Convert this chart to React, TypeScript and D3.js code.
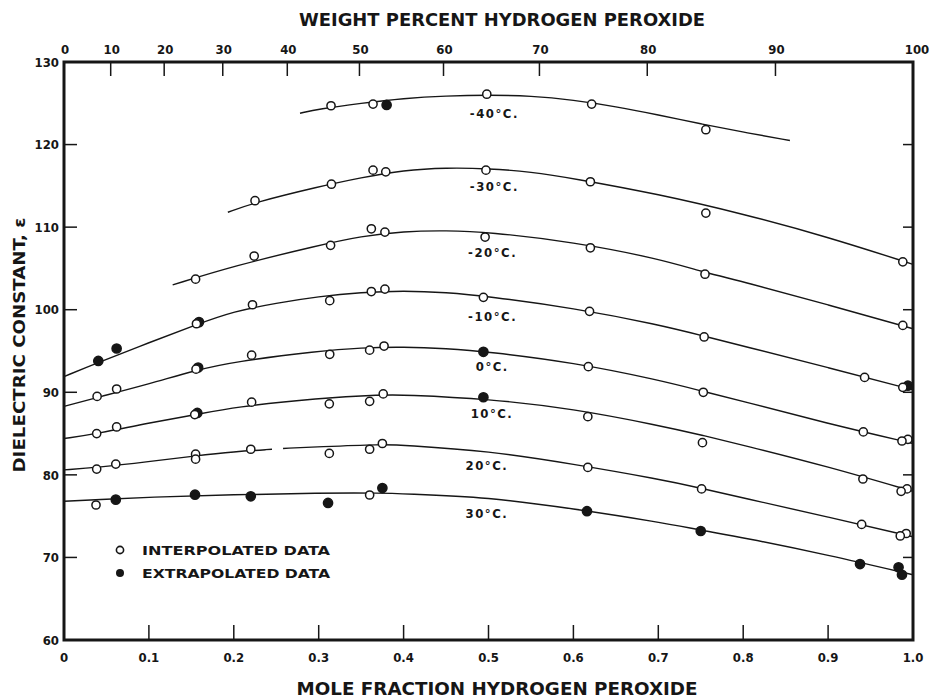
import React from 'react';
import * as d3 from 'd3';

// ---- data (mole fraction, dielectric constant) ----
type Pt = [number, number];
type Obs = [number, number, 'o' | 'f'];

const temps = ['-40', '-30', '-20', '-10', '0', '10', '20', '30'];

// smoothed curves
const curveM40: Pt[] = [[0.278, 123.8], [0.3, 124.3], [0.35, 125.0], [0.4, 125.6], [0.45, 125.9], [0.5, 126.0], [0.55, 125.9], [0.6, 125.4], [0.65, 124.6], [0.7, 123.6], [0.75, 122.5], [0.8, 121.5], [0.855, 120.5]];
const curveM30: Pt[] = [[0.193, 111.8], [0.225, 113.0], [0.3, 114.9], [0.35, 116.0], [0.4, 116.9], [0.45, 117.2], [0.5, 117.1], [0.55, 116.7], [0.6, 115.9], [0.7, 114.0], [0.8, 111.6], [0.9, 108.8], [1.0, 105.5]];
const curveM20: Pt[] = [[0.128, 103.0], [0.2, 105.3], [0.3, 107.8], [0.35, 108.9], [0.4, 109.5], [0.45, 109.6], [0.5, 109.4], [0.6, 108.2], [0.7, 106.2], [0.755, 104.5], [0.8, 103.4], [0.9, 100.6], [1.0, 97.7]];
const curveM10: Pt[] = [[0, 91.9], [0.04, 93.6], [0.1, 96.0], [0.156, 98.2], [0.2, 99.8], [0.25, 100.8], [0.3, 101.6], [0.35, 102.1], [0.4, 102.3], [0.45, 102.1], [0.5, 101.6], [0.6, 100.2], [0.7, 98.2], [0.754, 96.8], [0.8, 95.6], [0.9, 93.0], [1.0, 90.3]];
const curveP0: Pt[] = [[0, 88.3], [0.04, 89.4], [0.1, 91.0], [0.156, 92.7], [0.2, 93.7], [0.3, 95.0], [0.35, 95.4], [0.4, 95.5], [0.45, 95.3], [0.5, 94.9], [0.6, 93.6], [0.7, 91.5], [0.753, 90.1], [0.8, 88.9], [0.9, 86.2], [1.0, 83.8]];
const curveP10: Pt[] = [[0, 84.4], [0.04, 85.0], [0.1, 86.3], [0.156, 87.3], [0.2, 88.2], [0.3, 89.3], [0.376, 89.7], [0.4, 89.7], [0.5, 89.2], [0.6, 88.0], [0.7, 86.0], [0.752, 84.8], [0.8, 83.6], [0.9, 81.0], [1.0, 78.0]];
// 20 deg curve has a small break in the drawn line
const curveP20: (Pt | null)[] = [[0, 80.6], [0.04, 80.9], [0.1, 81.6], [0.155, 82.3], [0.2, 82.8], [0.245, 83.1], null, [0.258, 83.2], [0.3, 83.4], [0.375, 83.7], [0.4, 83.6], [0.5, 82.9], [0.6, 81.3], [0.7, 79.5], [0.75, 78.4], [0.8, 77.2], [0.9, 74.9], [1.0, 72.5]];
const curveP30: Pt[] = [[0, 76.8], [0.04, 77.0], [0.1, 77.3], [0.2, 77.6], [0.3, 77.8], [0.375, 77.8], [0.4, 77.7], [0.5, 77.3], [0.6, 75.9], [0.7, 74.3], [0.75, 73.3], [0.8, 72.4], [0.9, 70.3], [1.0, 67.9]];

// measured points: o = interpolated, f = extrapolated
const ptsM40: Obs[] = [[0.3145, 124.7, 'o'], [0.364, 124.9, 'o'], [0.38, 124.8, 'f'], [0.498, 126.1, 'o'], [0.6215, 124.9, 'o'], [0.756, 121.8, 'o']];
const ptsM30: Obs[] = [[0.225, 113.2, 'o'], [0.315, 115.2, 'o'], [0.364, 116.9, 'o'], [0.379, 116.7, 'o'], [0.497, 116.9, 'o'], [0.62, 115.5, 'o'], [0.756, 111.7, 'o'], [0.988, 105.8, 'o']];
const ptsM20: Obs[] = [[0.155, 103.7, 'o'], [0.224, 106.5, 'o'], [0.314, 107.8, 'o'], [0.362, 109.8, 'o'], [0.378, 109.4, 'o'], [0.496, 108.8, 'o'], [0.62, 107.5, 'o'], [0.755, 104.3, 'o'], [0.988, 98.1, 'o']];
const ptsM10: Obs[] = [[0.0404, 93.8, 'f'], [0.062, 95.3, 'f'], [0.159, 98.5, 'f'], [0.156, 98.3, 'o'], [0.222, 100.6, 'o'], [0.313, 101.1, 'o'], [0.362, 102.2, 'o'], [0.378, 102.5, 'o'], [0.494, 101.5, 'o'], [0.619, 99.8, 'o'], [0.754, 96.7, 'o'], [0.943, 91.8, 'o'], [0.994, 90.8, 'f'], [0.988, 90.6, 'o']];
const ptsP0: Obs[] = [[0.039, 89.5, 'o'], [0.062, 90.4, 'o'], [0.158, 93.0, 'f'], [0.1555, 92.8, 'o'], [0.221, 94.5, 'o'], [0.313, 94.6, 'o'], [0.36, 95.1, 'o'], [0.377, 95.6, 'o'], [0.494, 94.9, 'f'], [0.6176, 93.1, 'o'], [0.753, 90.0, 'o'], [0.9415, 85.2, 'o'], [0.994, 84.3, 'o'], [0.987, 84.1, 'o']];
const ptsP10: Obs[] = [[0.0385, 85.0, 'o'], [0.062, 85.8, 'o'], [0.157, 87.5, 'f'], [0.154, 87.3, 'o'], [0.221, 88.8, 'o'], [0.3125, 88.6, 'o'], [0.36, 88.9, 'o'], [0.376, 89.8, 'o'], [0.494, 89.4, 'f'], [0.617, 87.05, 'o'], [0.752, 83.9, 'o'], [0.941, 79.5, 'o'], [0.993, 78.3, 'o'], [0.986, 78.0, 'o']];
const ptsP20: Obs[] = [[0.0385, 80.7, 'o'], [0.061, 81.3, 'o'], [0.155, 82.5, 'o'], [0.155, 81.9, 'o'], [0.22, 83.1, 'o'], [0.3125, 82.6, 'o'], [0.36, 83.1, 'o'], [0.375, 83.8, 'o'], [0.617, 80.9, 'o'], [0.751, 78.3, 'o'], [0.9395, 74.0, 'o'], [0.992, 72.9, 'o'], [0.985, 72.6, 'o']];
const ptsP30: Obs[] = [[0.0377, 76.35, 'o'], [0.061, 77.0, 'f'], [0.1543, 77.6, 'f'], [0.22, 77.4, 'f'], [0.311, 76.6, 'f'], [0.36, 77.56, 'o'], [0.375, 78.4, 'f'], [0.616, 75.6, 'f'], [0.75, 73.2, 'f'], [0.9376, 69.2, 'f'], [0.983, 68.8, 'f'], [0.987, 67.9, 'f']];

// curve label anchors (mole fraction, value)
const labelPos: Pt[] = [[0.478, 123.8], [0.478, 114.9], [0.476, 106.9], [0.476, 99.2], [0.485, 93.2], [0.479, 87.4], [0.473, 81.1], [0.473, 75.4]];

const curves = [curveM40, curveM30, curveM20, curveM10, curveP0, curveP10, curveP20, curveP30];
const points = [ptsM40, ptsM30, ptsM20, ptsM10, ptsP0, ptsP10, ptsP20, ptsP30];

// axes
const yTicks = [60, 70, 80, 90, 100, 110, 120, 130];
const xTicks = [0, 0.1, 0.2, 0.3, 0.4, 0.5, 0.6, 0.7, 0.8, 0.9, 1.0];
const xTickLabels = ['0', '0.1', '0.2', '0.3', '0.4', '0.5', '0.6', '0.7', '0.8', '0.9', '1.0'];
// weight percent ticks and where they fall on the mole-fraction scale
const wtLabels = ['0', '10', '20', '30', '40', '50', '60', '70', '80', '90', '100'];
const wtAtMole = [0, 0.055, 0.118, 0.187, 0.263, 0.348, 0.447, 0.56, 0.687, 0.838, 1.0];

const W = 935;
const H = 700;
const FONT = "'DejaVu Sans Condensed', 'DejaVu Sans', sans-serif";
const INK = '#161616';

export default function App() {
  const x = d3.scaleLinear().domain([0, 1]).range([64, 913]);
  const y = d3.scaleLinear().domain([60, 130]).range([640, 62]);

  // basis spline gives the smooth hand-drawn look
  const line = d3.line<Pt | null>()
    .defined(d => d !== null)
    .x(d => x((d as Pt)[0]))
    .y(d => y((d as Pt)[1]))
    .curve(d3.curveBasis);

  const [x0, x1] = x.range();
  const [yb, yt] = y.range();

  return (
    <div style={{ position: 'absolute', left: 0, top: 0 }}>
      <svg width={W} height={H} style={{ display: 'block', background: '#fff' }}>
        {/* curves */}
        <g fill="none" stroke={INK} strokeWidth={1.4}>
          {curves.map((c, i) => <path key={i} d={line(c) || ''} />)}
        </g>

        {/* data points */}
        {points.map((ps, i) => (
          <g key={i}>
            {ps.map((p, j) => (
              <circle key={j} cx={x(p[0])} cy={y(p[1])} r={p[2] === 'f' ? 4.6 : 4.1}
                fill={p[2] === 'f' ? INK : '#fff'} stroke={INK} strokeWidth={1.5} />
            ))}
          </g>
        ))}

        {/* curve labels */}
        <g fontFamily={FONT} fontWeight="bold" fontSize={13} fill={INK}>
          {temps.map((t, i) => (
            <text key={t} x={x(labelPos[i][0])} y={y(labelPos[i][1])} dy="0.36em" letterSpacing="1.5">
              {t}°C.
            </text>
          ))}
        </g>

        {/* frame */}
        <rect x={x0} y={yt} width={x1 - x0} height={yb - yt} fill="none" stroke={INK} strokeWidth={3} />

        {/* inward ticks */}
        <g stroke={INK} strokeWidth={1.5}>
          {yTicks.slice(1, -1).map(v => (
            <g key={v}>
              <line x1={x0} x2={x0 + 13} y1={y(v)} y2={y(v)} />
              <line x1={x1} x2={x1 - 10} y1={y(v)} y2={y(v)} />
            </g>
          ))}
          {xTicks.slice(1, -1).map(v => (
            <line key={v} x1={x(v)} x2={x(v)} y1={yb} y2={yb - 15} />
          ))}
          {wtAtMole.slice(1, -1).map(v => (
            <line key={v} x1={x(v)} x2={x(v)} y1={yt} y2={yt + 14} />
          ))}
        </g>

        {/* tick labels */}
        <g fontFamily={FONT} fontWeight="bold" fontSize={13} fill={INK}>
          {yTicks.map(v => (
            <text key={v} x={x0 - 5} y={y(v)} dy="0.36em" textAnchor="end">{v}</text>
          ))}
          {xTicks.map((v, i) => (
            <text key={v} x={x(v)} y={yb + 22} textAnchor="middle">{xTickLabels[i]}</text>
          ))}
          {wtAtMole.map((v, i) => (
            <text key={i} x={x(v) + (i === 10 ? 4 : 1)} y={yt - 8} textAnchor="middle">{wtLabels[i]}</text>
          ))}
        </g>

        {/* axis titles */}
        <g fontFamily={FONT} fontWeight="bold" fill={INK}>
          <text x={502} y={26} fontSize={17} textAnchor="middle" textLength={406} lengthAdjust="spacingAndGlyphs">
            WEIGHT PERCENT HYDROGEN PEROXIDE
          </text>
          <text x={497} y={695} fontSize={17} textAnchor="middle" textLength={401} lengthAdjust="spacingAndGlyphs">
            MOLE FRACTION HYDROGEN PEROXIDE
          </text>
          <text transform={`translate(25,${(yb + yt) / 2 - 6}) rotate(-90)`} fontSize={15} textAnchor="middle"
            textLength={255} lengthAdjust="spacingAndGlyphs">
            DIELECTRIC CONSTANT, ε
          </text>
        </g>

        {/* legend */}
        <g fontFamily={FONT} fontWeight="bold" fontSize={13} fill={INK}>
          <circle cx={120} cy={550} r={3.6} fill="#fff" stroke={INK} strokeWidth={1.6} />
          <text x={142} y={550} dy="0.36em" textLength={188} lengthAdjust="spacingAndGlyphs">INTERPOLATED DATA</text>
          <circle cx={120} cy={573} r={4} fill={INK} />
          <text x={142} y={573} dy="0.36em" textLength={188} lengthAdjust="spacingAndGlyphs">EXTRAPOLATED DATA</text>
        </g>
      </svg>
    </div>
  );
}
